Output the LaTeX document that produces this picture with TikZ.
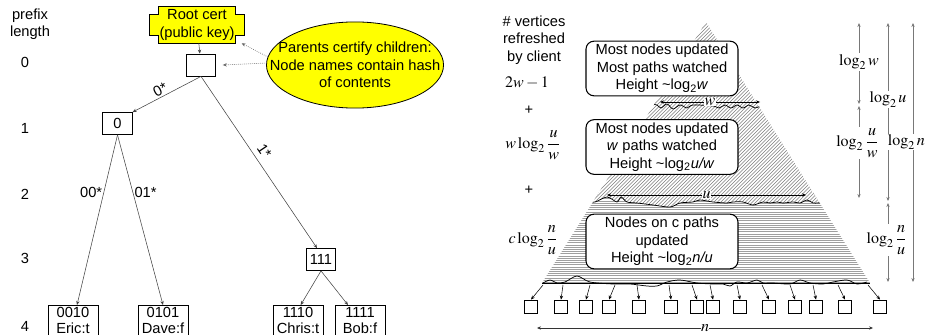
\documentclass[tikz,border=0pt]{standalone}
\usepackage{mathptmx}
\usepackage[no-math]{fontspec}
\setmainfont{Liberation Sans}
\usetikzlibrary{arrows.meta,positioning,calc,backgrounds}
\definecolor{certyellow}{RGB}{255,255,0}
\definecolor{hatchgray}{RGB}{125,125,125}
\definecolor{dimgray}{RGB}{120,120,120}

\begin{document}
\begin{tikzpicture}[x=0.75pt,y=-0.75pt,
  txt/.style={font=\fontsize{11}{13}\selectfont, align=center, inner sep=1pt},
  mth/.style={font=\fontsize{12}{14}\selectfont, inner sep=1pt},
  tbox/.style={txt, draw, line width=0.6pt, minimum width=22pt, minimum height=16.5pt},
  leafbox/.style={txt, draw, line width=0.6pt, minimum width=37.5pt, minimum height=22.5pt,
    anchor=north, inner sep=0pt, font=\fontsize{11}{11.5}\selectfont},
  link/.style={-{Stealth[length=3pt,width=2.5pt]}, line width=0.4pt, draw=black!75},
  hintarrow/.style={-{Stealth[length=3pt,width=2.5pt]}, densely dotted, line width=0.5pt, draw=black!60},
  phase/.style={txt, draw, fill=white, rounded corners=6pt, line width=0.8pt,
    minimum width=114pt, minimum height=41pt},
  hatch/.style={draw=hatchgray, line width=0.5pt},
  hline/.style={draw=gray!75, line width=0.55pt},
  wave/.style={line width=0.55pt},
  cell/.style={draw, line width=0.6pt, minimum size=9.75pt, inner sep=0pt},
  drop/.style={-{Stealth[length=3pt,width=2.5pt]}, line width=0.4pt},
  spanarrow/.style={{Stealth[length=3pt,width=2.5pt]}-{Stealth[length=3pt,width=2.5pt]}, line width=0.45pt},
  dim/.style={{Stealth[length=3pt,width=2.5pt]}-{Stealth[length=3pt,width=2.5pt]}, line width=0.5pt, draw=dimgray},
  dimlab/.style={mth, fill=white}
]
\useasboundingbox (0,0) rectangle (927,335);

\node[txt] (plen) at (30,24) {prefix\\length};
\foreach \d/\y in {0/62,1/128,2/194,3/258,4/326}
  \node[txt] (lvl\d) at (25,\y) {\d};

\node[txt, minimum width=70.5pt, minimum height=27pt] (cert) at (197,25) {Root cert\\(public key)};
\begin{scope}[on background layer]
\draw[fill=certyellow, line width=0.6pt] ([yshift=-6pt]cert.north west) -- ++(6.5pt,0pt)
  |- ([xshift=-6.5pt]cert.north east) |- ([yshift=-6pt]cert.north east)
  |- ([yshift=6pt]cert.south east) -| ([xshift=-6.5pt]cert.south east)
  |- ([xshift=6.5pt]cert.south west) |- ([yshift=6pt]cert.south west) -- cycle;
\end{scope}

\node[tbox] (root) at (201,65) {};
\node[tbox] (n0) at (117.5,123.5) {0};
\node[tbox] (n111) at (321,259.5) {111};
\node[leafbox] (eric) at (73,305) {0010\\Eric:t};
\node[leafbox] (dave) at (163,305) {0101\\Dave:f};
\node[leafbox] (chris) at (298,305) {1110\\Chris:t};
\node[leafbox] (bob) at (360,305) {1111\\Bob:f};

\draw[link] (cert) -- (root);
\draw[link] (root.south) -- node[txt, sloped, above, pos=0.55] {0*} (n0.north east);
\draw[link] (root.south) -- node[txt, sloped, above=3pt, pos=0.47] {1*} ([xshift=-3pt]n111.north);
\draw[link] (n0.south) -- node[txt, left, pos=0.34] {00*} ([xshift=3pt]eric.north);
\draw[link] (n0.south) -- node[txt, right, pos=0.34] {01*} (dave.north);
\draw[link] (n111.south) -- ([xshift=2pt]chris.north);
\draw[link] (n111.south) -- ([xshift=-9pt]bob.north);

\node[txt] (hint) at (355,65) {Parents certify children:\\Node names contain hash\\of contents};
\begin{scope}[on background layer]
\draw[fill=certyellow, line width=0.6pt] (hint.center) ellipse [x radius=66.4pt, y radius=32.3pt];
\end{scope}
\coordinate (hintA) at (268,57);
\coordinate (hintB) at (267,63);
\draw[hintarrow] (hintA) -- ([xshift=-2pt]cert.south east);
\draw[hintarrow] (hintB) -- ([xshift=5pt]root.east);

\node[txt] (vcount) at (534,40) {\# vertices\\refreshed\\by client};
\node[mth] (tw) at (527,83) {$2w-1$};
\node[txt] (plus1) at (529,110) {+};
\node[mth] (tu) at (533,145) {$\displaystyle w\log_2\frac{u}{w}$};
\node[txt] (plus2) at (529,190) {+};
\node[mth] (tn) at (533,240) {$\displaystyle c\log_2\frac{n}{u}$};

\coordinate (apex) at (706,22);
\coordinate (bl) at (542,283);
\coordinate (br) at (870,283);

\begin{scope}
\clip (apex) -- (bl) -- (br) -- cycle;
\foreach \y in {190,192.2,...,284}
  \draw[hline] (540,\y) -- (875,\y);
\begin{scope}
\clip (530,0) -- (530,202) -- plot[smooth] coordinates {(585,202) (595,202) (607,197) (617,202) (621,197) (627,202) (637,203) (653,205) (670,207) (680,203) (693,202) (700,200) (713,202) (727,203) (733,202) (743,202) (753,205) (763,202) (770,203) (777,202) (783,203) (793,202) (800,203) (807,200) (813,203) (818,203) (826,203)} -- (880,203) -- (880,0) -- cycle;
\fill[white] (530,0) rectangle (880,215);
\foreach \x in {505,508.5,...,830}
  \draw[hatch] (\x,215) -- ++(200,-200);
\end{scope}
\draw[wave] plot[smooth] coordinates {(585,202) (595,202) (607,197) (617,202) (621,197) (627,202) (637,203) (653,205) (670,207) (680,203) (693,202) (700,200) (713,202) (727,203) (733,202) (743,202) (753,205) (763,202) (770,203) (777,202) (783,203) (793,202) (800,203) (807,200) (813,203) (818,203) (826,203)};
\draw[wave] plot[smooth] coordinates {(652,104) (657,105) (661,108) (667,104) (673,109) (680,105) (687,108) (693,105) (713,106) (719,108) (725,105) (731,108) (737,105) (743,108) (749,105) (755,108) (761,106) (766,106)};
\end{scope}
\draw[wave] plot[smooth] coordinates {(543,283) (550,280) (557,283) (565,282) (577,276) (590,282) (613,284) (630,284) (647,286) (657,286) (667,282) (680,280) (697,283) (713,284) (723,284) (730,286) (737,282) (747,283) (757,280) (763,283) (773,283) (790,284) (800,280) (810,283) (823,284) (833,282) (847,280) (857,284) (867,282)};
\draw[line width=0.4pt] (bl) -- (br);

\coordinate (wl) at (660,102);
\coordinate (wr) at (760,102);
\draw[spanarrow] (wl) -- node[mth, fill=white, inner sep=0.5pt] {$w$} (wr);
\coordinate (ul) at (607,195);
\coordinate (ur) at (806,195);
\draw[spanarrow] (ul) -- node[mth, fill=white, inner sep=0.5pt] {$u$} (ur);

\node[phase] (ph1) at (662,68.5) {Most nodes updated\\Most paths watched\\Height \textasciitilde log\textsubscript{2}\textit{w}};
\node[phase] (ph2) at (662,147) {Most nodes updated\\\textit{w} paths watched\\Height \textasciitilde log\textsubscript{2}\textit{u/w}};
\node[phase] (ph3) at (662,241.5) {Nodes on c paths\\updated\\Height \textasciitilde log\textsubscript{2}\textit{n/u}};

\foreach \sx/\cx [count=\i] in {543/531, 563/561, 590/586, 615/609, 637/639, 669/671, 692/697, 710/713, 737/740, 762/769, 790/795, 813/816, 838/845, 868/880} {
  \node[cell] (leaf\i) at (\cx,306.5) {};
  \coordinate (drop\i) at (\sx,285);
  \draw[drop] (drop\i) -- (leaf\i.north);
}
\coordinate (nl) at (537,328);
\coordinate (nr) at (873,328);
\draw[spanarrow, draw=black!80] (nl) -- node[mth, fill=white, inner sep=0pt] {$n$} (nr);

\coordinate (c1top) at (859,23);
\coordinate (c1a) at (859,104);
\coordinate (c1b) at (859,106);
\coordinate (c1bot) at (859,198);
\coordinate (c2top) at (888,23);
\coordinate (c2a) at (888,201);
\coordinate (c2b) at (888,203);
\coordinate (c2bot) at (888,282);
\coordinate (c3top) at (913,23);
\coordinate (c3bot) at (913,282);
\draw[dim] (c1top) -- node[dimlab, pos=0.48] {$\log_2 w$} (c1a);
\draw[dim] (c1b) -- node[dimlab, pos=0.4, xshift=-1pt] {$\displaystyle\log_2\frac{u}{w}$} (c1bot);
\draw[dim] (c2top) -- node[dimlab, pos=0.43] {$\log_2 u$} (c2a);
\draw[dim] (c2b) -- node[dimlab, pos=0.47, xshift=-1pt] {$\displaystyle\log_2\frac{n}{u}$} (c2bot);
\draw[dim] (c3top) -- node[dimlab, pos=0.46, xshift=-5pt, inner sep=0.5pt] {$\log_2 n$} (c3bot);
\end{tikzpicture}
\end{document}
